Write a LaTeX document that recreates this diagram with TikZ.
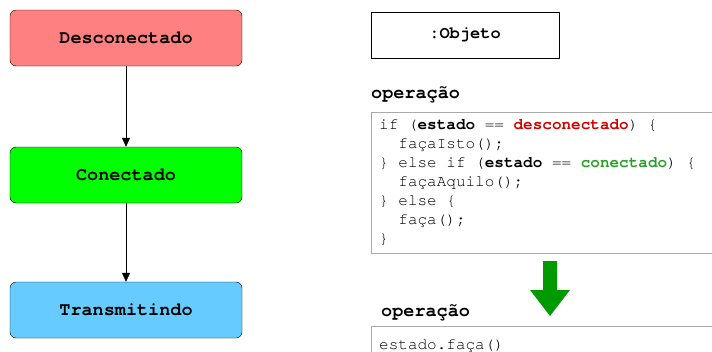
\documentclass[tikz,border=0pt]{standalone}
\usepackage{fontspec}
\setmonofont{texgyrecursor}[Extension=.otf, UprightFont=*-regular,
  BoldFont=*-bold]
\usepackage{xcolor}
\definecolor{off}{RGB}{255,128,128}
\definecolor{on}{RGB}{0,255,0}
\definecolor{send}{RGB}{102,204,255}
\definecolor{redtxt}{RGB}{208,0,0}
\definecolor{greentxt}{RGB}{40,160,40}
\definecolor{bigarrow}{RGB}{0,153,0}
\definecolor{codeline}{RGB}{170,170,170}
\usetikzlibrary{positioning, calc, shapes, arrows.meta}
\tikzstyle{State} = [
draw, rounded corners=6pt,
minimum width=232pt, minimum height=56pt,
font=\ttfamily\bfseries\fontsize{18.5}{20}\selectfont]
\tikzstyle{Arrow} = [
-{Triangle[length=9pt, width=8pt]}]
\tikzstyle{Label} = [
anchor=base west, inner sep=0pt,
font=\ttfamily\bfseries\fontsize{18.5}{20}\selectfont]
\tikzstyle{Code} = [
draw=codeline, anchor=north west, align=left,
inner xsep=8pt, inner ysep=1pt,
font=\ttfamily\fontsize{16}{19}\selectfont,
execute at begin node={\spaceskip=9.6pt\xspaceskip=9.6pt\relax}]

\begin{document}
\begin{tikzpicture}[x=1pt, y=-1pt]
    \useasboundingbox (0,0) rectangle (712,351);
    \node [State, fill=off] (1) at (126,38) {Desconectado};
    \node [State, fill=on] (2) at (126,175) {Conectado};
    \node [State, fill=send] (3) at (126,310) {Transmitindo};

    \draw[Arrow] (1.south)--(2.north);
    \draw[Arrow] (2.south)--(3.north);

    \node [draw, minimum width=188pt, minimum height=46pt,
           font=\ttfamily\bfseries\fontsize{17}{19}\selectfont]
          (4) at (465,35) {:Objeto};

    \node [Label] (5) at (371,98) {operação};
    \node [Code, minimum width=345pt, minimum height=141pt,
           text width=329pt] (6) at (371,112)
          {if (\textbf{estado} == \textbf{\color{redtxt}desconectado}) \{\\
           \hspace*{19.2pt}façaIsto();\\
           \} else if (\textbf{estado} == \textbf{\color{greentxt}conectado}) \{\\
           \hspace*{19.2pt}façaAquilo();\\
           \} else \{\\
           \hspace*{19.2pt}faça();\\
           \}};

    % seta verde grande
    \fill[bigarrow] (543,261) -- (557,261) -- (557,290) -- (570,290)
        -- (550,316) -- (530,290) -- (543,290) -- cycle;

    \node [Label] (8) at (381,316) {operação};
    \node [Code, minimum width=345pt, minimum height=40pt,
           text width=329pt, inner ysep=0pt] (9) at (371,326) {estado.faça()};
\end{tikzpicture}
\end{document}
